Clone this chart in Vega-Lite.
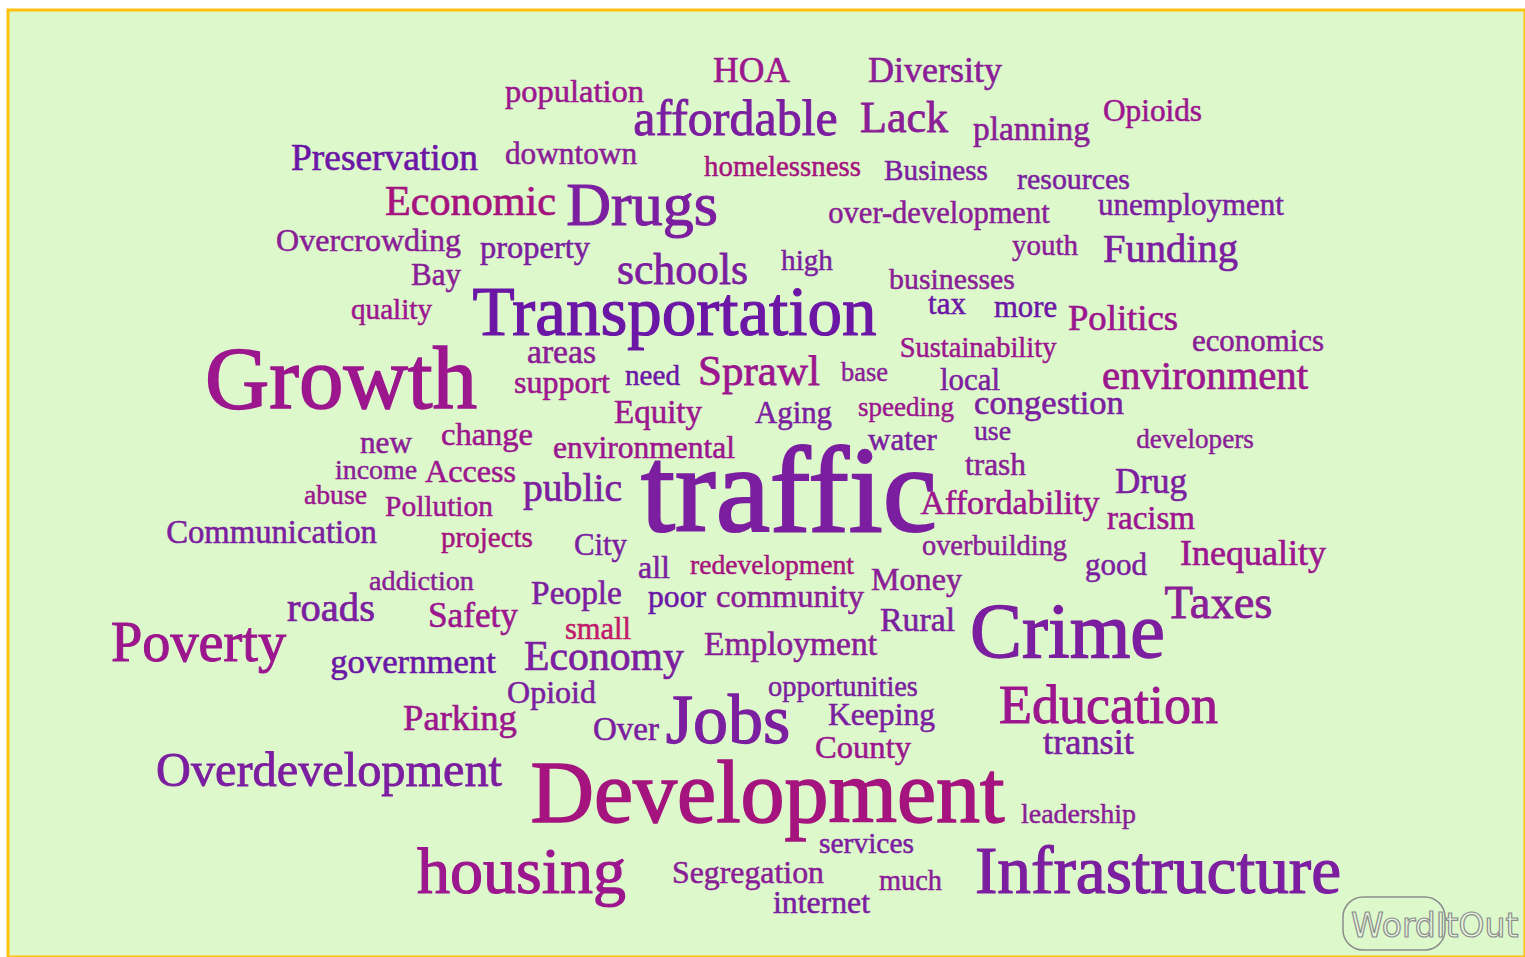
{
  "$schema": "https://vega.github.io/schema/vega-lite/v6.json",
  "width": 1517,
  "height": 947,
  "autosize": "none",
  "padding": {"left": 8, "top": 10, "right": 0, "bottom": 0},
  "background": "#ffffff",
  "view": {"fill": "#ddf9cc", "stroke": "#ffc20e", "strokeWidth": 3},
  "datasets": {
    "words": [
      {"word": "population", "x": 574.5, "y": 102, "weight": 32.5, "tone": "magenta"},
      {"word": "HOA", "x": 751.5, "y": 82, "weight": 35.5, "tone": "magenta"},
      {"word": "Diversity", "x": 935, "y": 82, "weight": 36, "tone": "plum"},
      {"word": "affordable", "x": 735.5, "y": 135, "weight": 50, "tone": "purple"},
      {"word": "Lack", "x": 904, "y": 132, "weight": 44, "tone": "plum"},
      {"word": "planning", "x": 1031.5, "y": 140, "weight": 33.4, "tone": "plum"},
      {"word": "Opioids", "x": 1152.5, "y": 121, "weight": 31.3, "tone": "magenta"},
      {"word": "Preservation", "x": 384.5, "y": 170, "weight": 37.4, "tone": "violet"},
      {"word": "downtown", "x": 571, "y": 164, "weight": 31.3, "tone": "plum"},
      {"word": "homelessness", "x": 782.5, "y": 176, "weight": 28.8, "tone": "rose"},
      {"word": "Business", "x": 936, "y": 180, "weight": 29.2, "tone": "purple"},
      {"word": "resources", "x": 1073.5, "y": 189, "weight": 29.9, "tone": "purple"},
      {"word": "Economic", "x": 470.5, "y": 215, "weight": 42.2, "tone": "rose"},
      {"word": "Drugs", "x": 642, "y": 225, "weight": 62, "tone": "purple"},
      {"word": "over-development", "x": 939, "y": 223, "weight": 30.5, "tone": "plum"},
      {"word": "unemployment", "x": 1191, "y": 215, "weight": 31, "tone": "purple"},
      {"word": "Overcrowding", "x": 368.5, "y": 251, "weight": 32, "tone": "plum"},
      {"word": "property", "x": 535, "y": 258, "weight": 32.5, "tone": "purple"},
      {"word": "schools", "x": 682.5, "y": 284, "weight": 43.7, "tone": "purple"},
      {"word": "high", "x": 807, "y": 270, "weight": 29.2, "tone": "purple"},
      {"word": "youth", "x": 1045, "y": 255, "weight": 29, "tone": "plum"},
      {"word": "Funding", "x": 1170.5, "y": 262, "weight": 40.5, "tone": "purple"},
      {"word": "Bay", "x": 436, "y": 285, "weight": 31, "tone": "plum"},
      {"word": "businesses", "x": 952, "y": 289, "weight": 29.8, "tone": "plum"},
      {"word": "quality", "x": 391.5, "y": 319, "weight": 29.2, "tone": "magenta"},
      {"word": "Transportation", "x": 674.5, "y": 335, "weight": 69, "tone": "violet"},
      {"word": "tax", "x": 947, "y": 314, "weight": 31, "tone": "violet"},
      {"word": "more", "x": 1025.5, "y": 317, "weight": 30.7, "tone": "violet"},
      {"word": "Politics", "x": 1123, "y": 330, "weight": 36.7, "tone": "magenta"},
      {"word": "Growth", "x": 341, "y": 408, "weight": 89, "tone": "magenta"},
      {"word": "areas", "x": 561.5, "y": 363, "weight": 33.6, "tone": "plum"},
      {"word": "Sustainability", "x": 978, "y": 357, "weight": 28.5, "tone": "magenta"},
      {"word": "economics", "x": 1258, "y": 351, "weight": 30.9, "tone": "plum"},
      {"word": "support", "x": 562, "y": 393, "weight": 32, "tone": "magenta"},
      {"word": "need", "x": 652.5, "y": 385, "weight": 29.1, "tone": "violet"},
      {"word": "Sprawl", "x": 759, "y": 385, "weight": 43, "tone": "magenta"},
      {"word": "base", "x": 864.5, "y": 381, "weight": 26.4, "tone": "plum"},
      {"word": "local", "x": 970, "y": 390, "weight": 30.9, "tone": "purple"},
      {"word": "environment", "x": 1205, "y": 389, "weight": 40.8, "tone": "magenta"},
      {"word": "Equity", "x": 658, "y": 423, "weight": 33, "tone": "magenta"},
      {"word": "Aging", "x": 793.5, "y": 423, "weight": 30.8, "tone": "purple"},
      {"word": "speeding", "x": 906, "y": 416, "weight": 27, "tone": "magenta"},
      {"word": "congestion", "x": 1049, "y": 414, "weight": 34.6, "tone": "purple"},
      {"word": "new", "x": 386, "y": 453, "weight": 31.2, "tone": "plum"},
      {"word": "change", "x": 487, "y": 445, "weight": 32.5, "tone": "magenta"},
      {"word": "environmental", "x": 644, "y": 458, "weight": 31.5, "tone": "magenta"},
      {"word": "water", "x": 902.5, "y": 450, "weight": 31, "tone": "purple"},
      {"word": "use", "x": 992.5, "y": 440, "weight": 27.8, "tone": "purple"},
      {"word": "developers", "x": 1195, "y": 448, "weight": 27.2, "tone": "plum"},
      {"word": "income", "x": 376, "y": 479, "weight": 27.9, "tone": "plum"},
      {"word": "Access", "x": 470.5, "y": 482, "weight": 32.1, "tone": "magenta"},
      {"word": "trash", "x": 995.5, "y": 475, "weight": 31.4, "tone": "plum"},
      {"word": "traffic", "x": 789, "y": 531, "weight": 122, "tone": "purple"},
      {"word": "public", "x": 572.5, "y": 501, "weight": 39.6, "tone": "purple"},
      {"word": "abuse", "x": 335.5, "y": 504, "weight": 27.7, "tone": "magenta"},
      {"word": "Pollution", "x": 439, "y": 516, "weight": 29.4, "tone": "magenta"},
      {"word": "Affordability", "x": 1010, "y": 514, "weight": 34.1, "tone": "magenta"},
      {"word": "Drug", "x": 1151, "y": 493, "weight": 35, "tone": "purple"},
      {"word": "racism", "x": 1151, "y": 529, "weight": 33, "tone": "magenta"},
      {"word": "Communication", "x": 271.5, "y": 543, "weight": 32.7, "tone": "purple"},
      {"word": "projects", "x": 487, "y": 547, "weight": 29, "tone": "rose"},
      {"word": "City", "x": 600.5, "y": 555, "weight": 30.8, "tone": "purple"},
      {"word": "overbuilding", "x": 994.5, "y": 555, "weight": 28.4, "tone": "plum"},
      {"word": "all", "x": 654, "y": 578, "weight": 32, "tone": "purple"},
      {"word": "redevelopment", "x": 772, "y": 574, "weight": 27.6, "tone": "rose"},
      {"word": "good", "x": 1116, "y": 575, "weight": 31, "tone": "purple"},
      {"word": "Inequality", "x": 1253, "y": 565, "weight": 36, "tone": "magenta"},
      {"word": "addiction", "x": 421.5, "y": 590, "weight": 28.2, "tone": "plum"},
      {"word": "Money", "x": 916.5, "y": 590, "weight": 32.1, "tone": "plum"},
      {"word": "People", "x": 576.5, "y": 604, "weight": 33.4, "tone": "purple"},
      {"word": "poor", "x": 677, "y": 607, "weight": 31.6, "tone": "violet"},
      {"word": "community", "x": 790, "y": 607, "weight": 32.5, "tone": "plum"},
      {"word": "Taxes", "x": 1218.5, "y": 618, "weight": 46.5, "tone": "plum"},
      {"word": "roads", "x": 331, "y": 621, "weight": 40.6, "tone": "purple"},
      {"word": "Safety", "x": 473, "y": 627, "weight": 35.2, "tone": "magenta"},
      {"word": "Rural", "x": 917.5, "y": 631, "weight": 33.8, "tone": "purple"},
      {"word": "Crime", "x": 1067.5, "y": 657, "weight": 78, "tone": "purple"},
      {"word": "Poverty", "x": 198.5, "y": 661, "weight": 56.3, "tone": "magenta"},
      {"word": "small", "x": 598, "y": 639, "weight": 30.5, "tone": "pink"},
      {"word": "Employment", "x": 790.5, "y": 655, "weight": 33.5, "tone": "plum"},
      {"word": "government", "x": 413, "y": 673, "weight": 34.7, "tone": "violet"},
      {"word": "Economy", "x": 604, "y": 670, "weight": 41.7, "tone": "purple"},
      {"word": "opportunities", "x": 843, "y": 696, "weight": 28.4, "tone": "purple"},
      {"word": "Opioid", "x": 551.5, "y": 703, "weight": 32, "tone": "purple"},
      {"word": "Parking", "x": 460, "y": 730, "weight": 36.6, "tone": "magenta"},
      {"word": "Education", "x": 1108.5, "y": 723, "weight": 54, "tone": "magenta"},
      {"word": "Jobs", "x": 728, "y": 743, "weight": 70, "tone": "purple"},
      {"word": "Over", "x": 626, "y": 740, "weight": 33, "tone": "purple"},
      {"word": "Keeping", "x": 881.5, "y": 725, "weight": 31.6, "tone": "purple"},
      {"word": "County", "x": 863, "y": 758, "weight": 32.6, "tone": "magenta"},
      {"word": "transit", "x": 1088.5, "y": 754, "weight": 36.4, "tone": "purple"},
      {"word": "Overdevelopment", "x": 329, "y": 786, "weight": 48.3, "tone": "purple"},
      {"word": "Development", "x": 767.5, "y": 822, "weight": 88, "tone": "rose"},
      {"word": "leadership", "x": 1078.5, "y": 823, "weight": 28, "tone": "plum"},
      {"word": "services", "x": 866.5, "y": 853, "weight": 29.5, "tone": "purple"},
      {"word": "housing", "x": 521.5, "y": 893, "weight": 66, "tone": "magenta"},
      {"word": "Segregation", "x": 748, "y": 883, "weight": 31.8, "tone": "plum"},
      {"word": "much", "x": 910.5, "y": 890, "weight": 28.4, "tone": "plum"},
      {"word": "Infrastructure", "x": 1158, "y": 893, "weight": 67.3, "tone": "purple"},
      {"word": "internet", "x": 821.5, "y": 913, "weight": 31.8, "tone": "purple"}
    ],
    "logo": [
      {"label": "WordItOut", "x": 1343, "x2": 1445, "y": 897, "y2": 950, "tx": 1351, "ty": 937}
    ]
  },
  "layer": [
    {
      "data": {"name": "words"},
      "mark": {"type": "text", "font": "Liberation Serif", "align": "center", "baseline": "alphabetic"},
      "encoding": {
        "x": {"field": "x", "type": "quantitative", "scale": {"domain": [8, 1525], "nice": false, "zero": false}, "axis": null},
        "y": {"field": "y", "type": "quantitative", "scale": {"domain": [10, 957], "reverse": true, "nice": false, "zero": false}, "axis": null},
        "size": {"field": "weight", "type": "quantitative", "scale": {"domain": [0, 130], "range": [0, 130]}, "legend": null},
        "color": {"field": "tone", "type": "nominal", "scale": {"domain": ["violet", "purple", "plum", "magenta", "rose", "pink"], "range": ["#6c16a6", "#7c1ea0", "#8a1e96", "#9c168e", "#a5147e", "#c21a6c"]}, "legend": null},
        "stroke": {"field": "tone", "type": "nominal", "scale": {"domain": ["violet", "purple", "plum", "magenta", "rose", "pink"], "range": ["#6c16a6", "#7c1ea0", "#8a1e96", "#9c168e", "#a5147e", "#c21a6c"]}, "legend": null},
        "strokeWidth": {"field": "weight", "type": "quantitative", "scale": {"domain": [26, 122], "range": [0.45, 2.2]}, "legend": null},
        "text": {"field": "word"}
      }
    },
    {
      "data": {"name": "logo"},
      "mark": {"type": "rect", "fill": null, "fillOpacity": 0, "stroke": "#8c8c8c", "strokeWidth": 1.5, "cornerRadius": 20},
      "encoding": {
        "x": {"field": "x", "type": "quantitative", "scale": {"domain": [8, 1525], "nice": false, "zero": false}, "axis": null},
        "x2": {"field": "x2"},
        "y": {"field": "y", "type": "quantitative", "scale": {"domain": [10, 957], "reverse": true, "nice": false, "zero": false}, "axis": null},
        "y2": {"field": "y2"}
      }
    },
    {
      "data": {"name": "logo"},
      "mark": {"type": "text", "font": "DejaVu Sans", "fontSize": 33, "align": "left", "baseline": "alphabetic", "fill": "#e6f7dc", "stroke": "#8c8c8c", "strokeWidth": 1.2},
      "encoding": {
        "x": {"field": "tx", "type": "quantitative", "scale": {"domain": [8, 1525], "nice": false, "zero": false}, "axis": null},
        "y": {"field": "ty", "type": "quantitative", "scale": {"domain": [10, 957], "reverse": true, "nice": false, "zero": false}, "axis": null},
        "text": {"field": "label"}
      }
    }
  ]
}
